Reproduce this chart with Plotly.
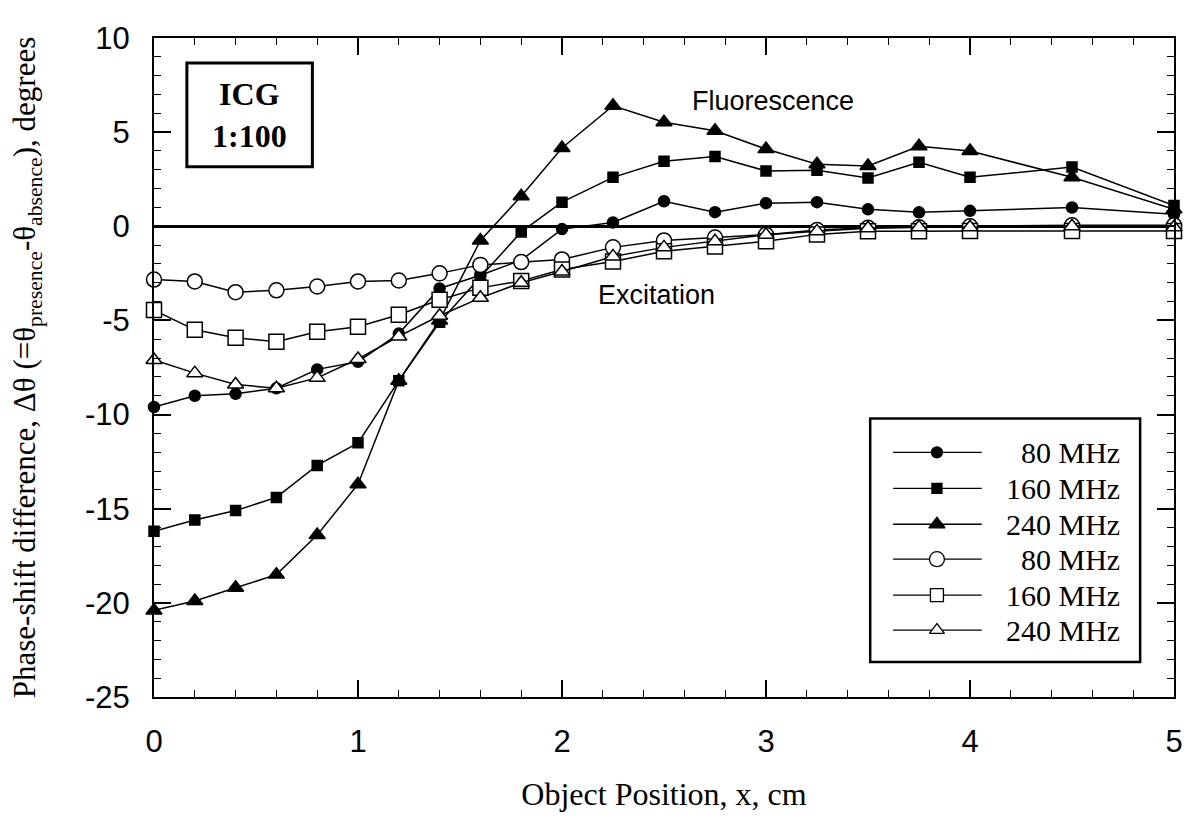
import plotly.graph_objects as go

# ---------------- data ----------------
x_pos = [0, 0.2, 0.4, 0.6, 0.8, 1.0, 1.2, 1.4, 1.6, 1.8, 2.0,
         2.25, 2.5, 2.75, 3.0, 3.25, 3.5, 3.75, 4.0, 4.5, 5.0]

fluor_80 = [-9.6, -9.0, -8.9, -8.6, -7.6, -7.2, -5.7, -3.3, -2.6, -1.8, -0.15,
            0.2, 1.33, 0.75, 1.23, 1.28, 0.9, 0.74, 0.82, 1.0, 0.64]
fluor_160 = [-16.2, -15.6, -15.1, -14.4, -12.7, -11.5, -8.2, -5.1, -2.7, -0.3, 1.28,
             2.6, 3.45, 3.7, 2.94, 2.98, 2.56, 3.4, 2.6, 3.15, 1.1]
fluor_240 = [-20.4, -19.9, -19.2, -18.5, -16.4, -13.7, -8.2, -5.0, -0.75, 1.6, 4.16,
             6.4, 5.53, 5.07, 4.1, 3.3, 3.2, 4.25, 4.0, 2.6, 0.9]
excit_80 = [-2.83, -2.93, -3.5, -3.4, -3.2, -2.93, -2.88, -2.5, -2.05, -1.9, -1.76,
            -1.12, -0.75, -0.6, -0.45, -0.2, -0.08, -0.05, 0.0, 0.05, 0.05]
excit_160 = [-4.45, -5.5, -5.92, -6.13, -5.6, -5.33, -4.7, -3.9, -3.27, -2.9, -2.3,
             -1.87, -1.33, -1.07, -0.8, -0.43, -0.27, -0.27, -0.25, -0.25, -0.25]
excit_240 = [-7.1, -7.8, -8.4, -8.6, -8.05, -7.05, -5.85, -4.75, -3.8, -3.0, -2.4,
             -1.6, -1.12, -0.8, -0.45, -0.27, -0.1, -0.05, -0.05, 0.0, -0.05]

legend_labels = ["80 MHz", "160 MHz", "240 MHz", "80 MHz", "160 MHz", "240 MHz"]

x_tick_vals = [0, 1, 2, 3, 4, 5]
x_tick_text = ["0", "1", "2", "3", "4", "5"]
y_tick_vals = [10, 5, 0, -5, -10, -15, -20, -25]
y_tick_text = ["10", "5", "0", "-5", "-10", "-15", "-20", "-25"]

# ---------------- styles ----------------
W, H = 1195, 818
L, R, T, B = 154, 1178, 38, 698  # plot area in pixels
SERIF = "Liberation Serif, Times New Roman, serif"
SANS = "Liberation Sans, Arial, sans-serif"

def px2x(px):
    return (px - L) / (R - L)

def px2y(py):
    return (B - py) / (B - T)

series = [
    (fluor_80, "circle", 11, "black"),
    (fluor_160, "square", 10, "black"),
    (fluor_240, "triangle-up", 14, "black"),
    (excit_80, "circle", 15, "white"),
    (excit_160, "square", 15, "white"),
    (excit_240, "triangle-up", 14, "white"),
]

fig = go.Figure()
for vals, sym, size, fill in series:
    fig.add_trace(go.Scatter(
        x=x_pos, y=vals, mode="lines+markers",
        line=dict(color="black", width=1.5),
        marker=dict(symbol=sym, size=size, color=fill,
                    line=dict(color="black", width=1.5)),
        cliponaxis=False, showlegend=False,
    ))

# ---------------- manual legend (overlay axis in 0..1 units) ----------------
row_y = [453, 489, 525, 560, 596, 631]
leg_x0, leg_xm, leg_x1 = 896, 940, 985
legend_sizes = [11, 10, 14, 15, 13, 13]
for (vals, sym, size, fill), ry, lsz, lab in zip(series, row_y, legend_sizes, legend_labels):
    fig.add_trace(go.Scatter(
        x=[px2x(leg_x0), px2x(leg_xm), px2x(leg_x1)],
        y=[px2y(ry)] * 3,
        xaxis="x2", yaxis="y2", mode="lines+markers",
        line=dict(color="black", width=1.3),
        marker=dict(symbol=sym, size=lsz, color=fill, opacity=[0, 1, 0],
                    line=dict(color="black", width=1.3)),
        cliponaxis=False, showlegend=False,
    ))
    fig.add_annotation(x=px2x(1126), y=px2y(ry), xref="paper", yref="paper",
                       text=lab, showarrow=False, xanchor="right", yanchor="middle",
                       font=dict(family=SERIF, size=30, color="black"))

# legend box
fig.add_shape(type="rect", xref="paper", yref="paper",
              x0=px2x(873), x1=px2x(1144), y0=px2y(663), y1=px2y(419),
              line=dict(color="black", width=2.5), fillcolor="rgba(0,0,0,0)")

# ICG box
fig.add_shape(type="rect", xref="paper", yref="paper",
              x0=px2x(187), x1=px2x(313), y0=px2y(167), y1=px2y(63),
              line=dict(color="black", width=3), fillcolor="white")
fig.add_annotation(x=px2x(250), y=px2y(115), xref="paper", yref="paper",
                   text="<b>ICG</b><br><b>1:100</b>", showarrow=False,
                   xanchor="center", yanchor="middle", align="center",
                   font=dict(family=SERIF, size=32, color="black"))

# text labels
fig.add_annotation(x=px2x(775), y=px2y(101), xref="paper", yref="paper",
                   text="Fluorescence", showarrow=False, xanchor="center", yanchor="middle",
                   font=dict(family=SANS, size=27, color="black"))
fig.add_annotation(x=px2x(658), y=px2y(295), xref="paper", yref="paper",
                   text="Excitation", showarrow=False, xanchor="center", yanchor="middle",
                   font=dict(family=SANS, size=27, color="black"))

fig.update_layout(
    width=W, height=H,
    margin=dict(l=L, r=W - R, t=T, b=H - B, pad=0),
    paper_bgcolor="white", plot_bgcolor="white",
    showlegend=False,
    xaxis=dict(
        range=[0, 5], tickmode="array", tickvals=x_tick_vals, ticktext=x_tick_text,
        ticks="inside", ticklen=17, tickwidth=1.5, tickcolor="black",
        minor=dict(ticks="inside", dtick=0.2, tick0=0, ticklen=7, tickwidth=1.2, tickcolor="black"),
        showline=True, linewidth=2, linecolor="black", mirror="ticks",
        showgrid=False, zeroline=False,
        tickfont=dict(family=SANS, size=31, color="black"),
        ticklabelstandoff=16,
        title=dict(text="Object Position, x, cm",
                   font=dict(family=SERIF, size=32, color="black"), standoff=24),
    ),
    yaxis=dict(
        range=[-25, 10], tickmode="array", tickvals=y_tick_vals, ticktext=y_tick_text,
        ticks="inside", ticklen=17, tickwidth=1.5, tickcolor="black",
        minor=dict(ticks="inside", dtick=1, tick0=0, ticklen=7, tickwidth=1.2, tickcolor="black"),
        showline=True, linewidth=2, linecolor="black", mirror="ticks",
        showgrid=False, zeroline=True, zerolinecolor="black", zerolinewidth=2.5,
        tickfont=dict(family=SANS, size=31, color="black"),
        ticklabelstandoff=16,
        title=dict(text="Phase-shift difference, \u0394\u03b8 (=\u03b8<sub>presence</sub>-\u03b8<sub>absence</sub>), degrees",
                   font=dict(family=SERIF, size=31, color="black"), standoff=40),
    ),
    xaxis2=dict(range=[0, 1], overlaying="x", anchor="y2", visible=False),
    yaxis2=dict(range=[0, 1], overlaying="y", anchor="x2", visible=False),
)

fig.write_html("out.html")
